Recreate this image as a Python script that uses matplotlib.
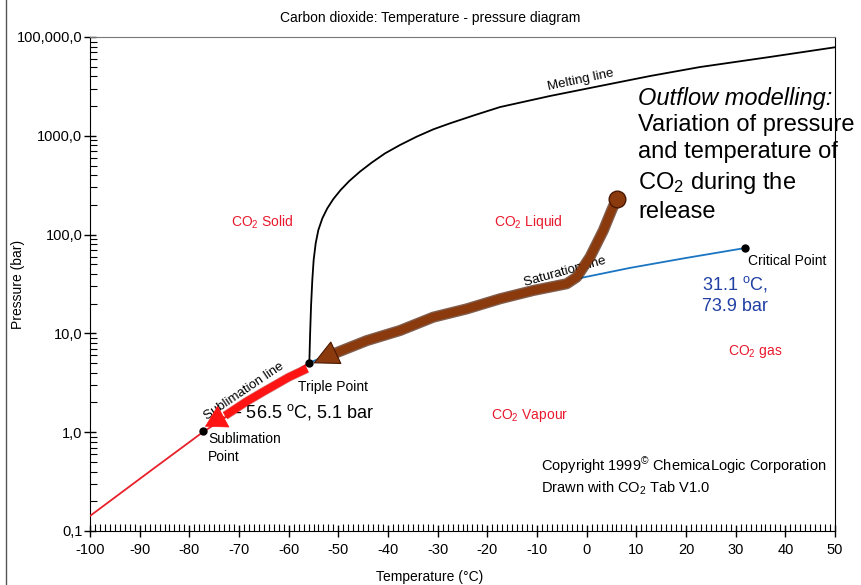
import numpy as np
import matplotlib
matplotlib.use("Agg")
import matplotlib.pyplot as plt
import matplotlib.ticker as mticker
import matplotlib.patheffects as pe
from matplotlib.lines import Line2D

plt.rcParams['font.family'] = ['Liberation Sans', 'DejaVu Sans']
plt.rcParams['mathtext.fontset'] = 'custom'
plt.rcParams['mathtext.rm'] = 'Liberation Sans'
plt.rcParams['mathtext.it'] = 'Liberation Sans:italic'

# phase boundary curves (T in degC, P in bar)
melt_T = [-55.84, -55.70, -55.50, -55.24, -54.97, -54.56, -54.03, -53.22, -52.22,
          -51.01, -49.53, -47.79, -45.64, -43.29, -40.60, -37.58, -34.23, -30.87,
          -27.52, -22.48, -17.45, -7.38, 2.68, 12.75, 22.82, 36.91, 50.0]
melt_P = [4.98, 9.27, 18.6, 34.7, 55.3, 81.6, 111, 146, 184.5,
          229, 283, 349, 434, 535, 664, 807, 980, 1163,
          1337, 1623, 1954, 2529, 3192, 4027, 4966, 6281, 7870]

subl_T = [-100.0, -88.0, -77.3, -66.0, -56.0]
subl_P = [0.142, 0.40, 1.0, 2.35, 5.0]

sat_T = [-56.0, -50.0, -40.0, -30.0, -20.0, -10.0, -2.0, 8.7, 20.0, 31.8]
sat_P = [5.0, 6.7, 10.0, 14.3, 19.8, 26.8, 35.7, 46.0, 58.0, 73.0]

# special points: triple, sublimation, critical
pts_T = [-56.0, -77.3, 31.8]
pts_P = [5.0, 1.03, 73.0]

# outflow path of the release (brown arrow)
flow_T = [6.05, 5.02, 3.35, 0.67, -2.01, -4.02, -10.74, -17.45, -24.16,
          -30.88, -37.58, -44.29, -51.0]
flow_P = [231, 176, 110, 59.2, 37.1, 31.8, 27.2, 22.4, 17.7,
          14.6, 10.7, 8.45, 6.2]
flow_tip = (-55.04, 4.98)

# red arrow along the sublimation line
red_T = [-56.3, -60.0, -65.1, -68.5, -72.8]
red_P = [4.4, 3.6, 2.57, 2.04, 1.47]
red_tip = (-76.85, 1.14)

x_ticks = list(range(-100, 51, 10))
y_ticks = [0.1, 1, 10, 100, 1000, 10000]
y_labels = ['0,1', '1,0', '10,0', '100,0', '1000,0', '100,000,0']

red_txt = '#e8192c'
brown = '#8b3a0e'

fig = plt.figure(figsize=(8.62, 5.85), dpi=100)
ax = fig.add_axes([90/862, 1 - 531/585, 745/862, 494/585])

ax.set_xlim(-100, 50)
ax.set_yscale('log')
ax.set_ylim(0.1, 10000)

ax.plot(melt_T, melt_P, color='black', lw=1.3, zorder=3)
ax.plot(subl_T, subl_P, color='#e8202a', lw=1.3, zorder=3)
ax.plot(sat_T, sat_P, color='#1a75c2', lw=1.3, zorder=3)

# brown outflow arrow
shadow = [pe.Stroke(linewidth=8, foreground='#4a1800', alpha=0.7), pe.Normal()]
ax.plot(flow_T, flow_P, color=brown, lw=6, solid_capstyle='butt', solid_joinstyle='round',
        path_effects=shadow, zorder=5)
ax.plot(flow_T[0], flow_P[0], 'o', color=brown, ms=12, mec='#4a1800', mew=1, zorder=6)
ax.annotate('', xy=flow_tip, xytext=(flow_T[-1], flow_P[-1]),
            arrowprops=dict(arrowstyle='-|>,head_length=1.7,head_width=0.85',
                            mutation_scale=10, color=brown, ec='#4a1800', lw=0.8,
                            shrinkA=0, shrinkB=0), zorder=6)

# red arrow
ax.plot(red_T, red_P, color='#ff1414', lw=5.5, solid_capstyle='butt',
        path_effects=[pe.Stroke(linewidth=6.5, foreground='#b00000', alpha=0.5), pe.Normal()],
        zorder=5)
ax.annotate('', xy=red_tip, xytext=(red_T[-1], red_P[-1]),
            arrowprops=dict(arrowstyle='-|>,head_length=1.45,head_width=0.85',
                            mutation_scale=10, color='#ff1414', lw=0.5,
                            shrinkA=0, shrinkB=0), zorder=6)

ax.plot(pts_T, pts_P, 'o', color='black', ms=5, zorder=7)

# ticks
ax.set_xticks(x_ticks)
ax.set_xticklabels([str(t) for t in x_ticks])
ax.xaxis.set_minor_locator(mticker.MultipleLocator(1))
ax.set_yticks(y_ticks)
ax.set_yticklabels(y_labels)
ax.yaxis.set_minor_locator(mticker.LogLocator(base=10, subs=np.arange(2, 10)))
ax.yaxis.set_minor_formatter(mticker.NullFormatter())
ax.tick_params(which='major', direction='inout', length=9, width=1, labelsize=10.5)
ax.tick_params(axis='y', which='major', pad=1)
ax.tick_params(axis='x', which='major', pad=4)
ax.tick_params(which='minor', direction='in', length=5, width=0.8)
ax.tick_params(top=False, right=False, which='both')

ax.spines['top'].set_color('#777777')
for s in ['left', 'bottom', 'right']:
    ax.spines[s].set_color('black')

fig.text(430/862, 1 - 18/585, 'Carbon dioxide: Temperature - pressure diagram',
         ha='center', va='center', fontsize=10)
fig.text(18/862, 1 - 284/585, 'Pressure (bar)', rotation=90,
         ha='center', va='center', fontsize=10)
fig.text(430/862, 1 - 577/585, 'Temperature (\u00b0C)', ha='center', va='center', fontsize=10)

# region labels
ax.text(-65.4, 134, 'CO$_2$ Solid', color=red_txt, ha='center', va='center', fontsize=10)
ax.text(-11.8, 134, 'CO$_2$ Liquid', color=red_txt, ha='center', va='center', fontsize=10)
ax.text(-11.4, 1.46, 'CO$_2$ Vapour', color=red_txt, ha='center', va='center', fontsize=10)
ax.text(33.9, 6.5, 'CO$_2$ gas', color=red_txt, ha='center', va='center', fontsize=10)

# line labels
ax.text(-1.1, 3670, 'Melting line', rotation=12, rotation_mode='anchor',
        ha='center', va='center', fontsize=9.5)
ax.text(-4.4, 41.8, 'Saturation line', rotation=15.5, rotation_mode='anchor',
        ha='center', va='center', fontsize=9.5, zorder=4)
ax.text(-69.0, 2.61, 'Sublimation line', rotation=34, rotation_mode='anchor',
        ha='center', va='center', fontsize=9.5, zorder=4)

ax.text(-58.06, 2.89, 'Triple Point', ha='left', va='center', fontsize=10)
ax.text(-76.2, 1.0, 'Sublimation\nPoint', ha='left', va='top', fontsize=10, linespacing=1.35)
ax.text(32.5, 54, 'Critical Point', ha='left', va='center', fontsize=10)

ax.text(-70.8, 1.60, '- 56.5 $^{\\mathrm{o}}$C, 5.1 bar', ha='left', va='center',
        fontsize=13, zorder=4)
ax.text(23.2, 24.8, '31.1 $^{\\mathrm{o}}$C,\n73.9 bar', color='#1f3fa3',
        ha='left', va='center', fontsize=13, linespacing=1.25)

fig.text(638/862, 1 - 98/585, 'Outflow modelling:', style='italic',
         ha='left', va='center', fontsize=17)
fig.text(638/862, 1 - 114/585, 'Variation of pressure\nand temperature of\nCO$_2$ during the\nrelease',
         ha='left', va='top', fontsize=17, linespacing=1.32)

ax.text(-9.2, 0.356, 'Copyright 1999$^{\u00a9}$ ChemicaLogic Corporation\nDrawn with CO$_2$ Tab V1.0',
        ha='left', va='center', fontsize=10.5, linespacing=1.3)

fig.add_artist(Line2D([6/862, 6/862], [0, 1], color='#555555', lw=1))

fig.savefig('out.png', dpi=100)
